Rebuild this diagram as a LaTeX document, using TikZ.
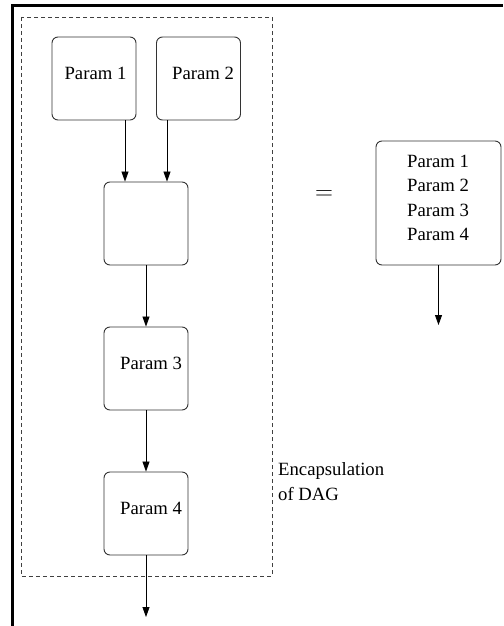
\documentclass[tikz,border=0pt]{standalone}
\usepackage{fontspec}
\setmainfont{Liberation Serif}
\newfontfamily\tms{Liberation Serif}
\usetikzlibrary{arrows.meta}
\begin{document}
\begin{tikzpicture}[x=1pt,y=-1pt,
  box/.style={draw=black!80, rounded corners=6pt, line width=0.9pt, minimum width=84pt, minimum height=83pt, inner sep=0pt},
  lbl/.style={font=\tms\fontsize{18.7}{24.5}\selectfont, inner sep=0pt},
  arr/.style={-{Triangle[length=10pt,width=7pt]}, line width=0.8pt}]
\useasboundingbox (0,0) rectangle (503,626);
% frame
\draw[line width=3pt] (12,626) -- (12,6) -- (503,6);
% encapsulation
\draw[black!75, line width=0.8pt, dash pattern=on 4pt off 3pt] (21,17) rectangle (272,576);
% boxes
\node[box] (p1) at (94,78.5) {};
\node[box] (p2) at (198.5,78.5) {};
\node[box] (mid) at (146,223.5) {};
\node[box] (p3) at (146,368.5) {};
\node[box] (p4) at (146,513.5) {};
\node[box, minimum width=125pt, minimum height=124pt] (rb) at (438.5,203) {};
% labels
\node[lbl] (t1) at (95.5,73.5) {Param 1};
\node[lbl] (t2) at (203,73.5) {Param 2};
\node[lbl] (t3) at (151,363.5) {Param 3};
\node[lbl] (t4) at (151,508) {Param 4};
\node[lbl, align=center] (trb) at (438,198) {Param 1\\Param 2\\Param 3\\Param 4};
\node[lbl, anchor=base west] (enc1) at (278,475) {Encapsulation};
\node[lbl, anchor=base west] (enc2) at (278,500) {of DAG};
\node[inner sep=0pt, font=\fontsize{31}{31}\selectfont] (eq) at (324,195) {$=$};
% connectors
\coordinate (outL) at (146,617);
\coordinate (outR) at (438.5,325);
\draw[arr] ([xshift=31pt]p1.south) -- ([xshift=-21pt]mid.north);
\draw[arr] ([xshift=-31.5pt]p2.south) -- ([xshift=21pt]mid.north);
\draw[arr] (mid) -- (p3);
\draw[arr] (p3) -- (p4);
\draw[arr] (p4) -- (outL);
\draw[arr] (rb) -- (outR);
\end{tikzpicture}
\end{document}
